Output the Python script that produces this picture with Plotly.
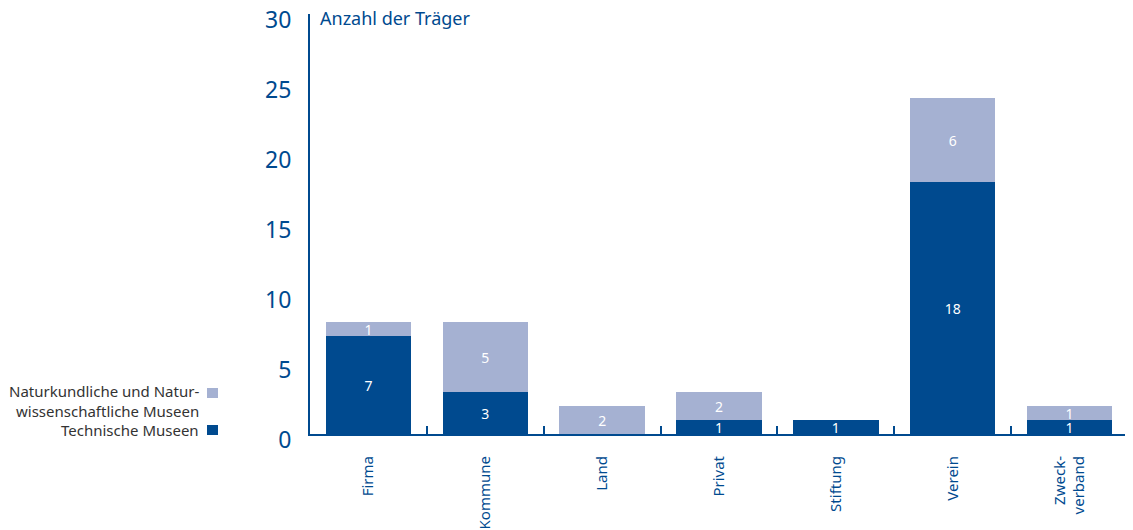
import plotly.graph_objects as go

# Daten
traeger = ['Firma', 'Kommune', 'Land', 'Privat', 'Stiftung', 'Verein', 'Zweck-<br>verband']
technische = [7, 3, 0, 1, 1, 18, 1]
naturkundliche = [1, 5, 2, 2, 0, 6, 1]
y_ticks = [0, 5, 10, 15, 20, 25, 30]

dunkel = '#004a8f'
hell = '#a5b1d2'
font_family = 'Noto Sans, Open Sans, sans-serif'

# Seite hat 8px Rand -> Figur entsprechend kleiner, Koordinaten um 8 verschoben
OFF = 8
W, H = 1133 - OFF, 530 - OFF
L, R, T, B = 310 - OFF, 5, 14 - OFF, 96
plot_w = W - L - R
plot_h = H - T - B
y0_px = H - B  # Pixel der Nulllinie (Figurkoordinaten)


def labels(vals):
    return [str(v) if v else '' for v in vals]


fig = go.Figure()

fig.add_trace(go.Bar(
    x=traeger, y=technische, name='Technische Museen',
    marker=dict(color=dunkel, line=dict(width=0)),
    text=labels(technische), textposition='inside', insidetextanchor='middle',
    textangle=0, constraintext='none',
    textfont=dict(color='white', size=14, family=font_family),
))
fig.add_trace(go.Bar(
    x=traeger, y=naturkundliche, name='Naturkundliche und Naturwissenschaftliche Museen',
    marker=dict(color=hell, line=dict(width=0)),
    text=labels(naturkundliche), textposition='inside', insidetextanchor='middle',
    textangle=0, constraintext='none',
    textfont=dict(color='white', size=14, family=font_family),
))

fig.update_layout(
    barmode='stack',
    bargap=0.27,
    width=W, height=H,
    margin=dict(l=L, r=R, t=T, b=B, autoexpand=False),
    plot_bgcolor='white', paper_bgcolor='white',
    showlegend=False,
    uniformtext=dict(minsize=14, mode='show'),
    font=dict(family=font_family, color=dunkel),
    xaxis=dict(
        showline=True, linecolor=dunkel, linewidth=2,
        ticks='inside', tickson='boundaries', ticklen=8, tickwidth=2, tickcolor=dunkel,
        tickangle=-90, tickfont=dict(size=15, color=dunkel),
        ticklabelstandoff=14, automargin=False,
        showgrid=False, zeroline=False,
    ),
    yaxis=dict(
        range=[0, 30], tickvals=y_ticks,
        showline=True, linecolor=dunkel, linewidth=2,
        ticks='', tickfont=dict(size=23, color=dunkel),
        ticklabelstandoff=12, ticklabelshift=6, ticklabeloverflow='allow',
        automargin=False,
        showgrid=False, zeroline=False,
    ),
)

annotations = [dict(
    x=0, xref='paper', xshift=8, y=30, yref='y',
    text='Anzahl der Träger', showarrow=False,
    xanchor='left', yanchor='middle', yshift=-4,
    font=dict(size=18, color=dunkel),
)]

# Legende (Text links, Symbol rechts), Pixelangaben im Referenzbild
legende = [
    ('Naturkundliche und Natur-<br>wissenschaftliche Museen', hell, 401, 393),
    ('Technische Museen', dunkel, 430, 430),
]
for text, farbe, y_text, y_box in legende:
    annotations.append(dict(
        x=(201 - OFF - L) / plot_w, y=(y0_px - (y_text - OFF)) / plot_h,
        xref='paper', yref='paper', text=text, showarrow=False,
        align='right', xanchor='right', yanchor='middle',
        font=dict(size=15, color='#333333'),
    ))
    fig.add_shape(
        type='rect', xref='paper', yref='paper',
        x0=(207 - OFF - L) / plot_w, x1=(218 - OFF - L) / plot_w,
        y0=(y0_px - (y_box - OFF) - 5) / plot_h, y1=(y0_px - (y_box - OFF) + 5) / plot_h,
        fillcolor=farbe, line=dict(width=0),
    )
fig.update_layout(annotations=annotations)

fig.write_html('out.html')
